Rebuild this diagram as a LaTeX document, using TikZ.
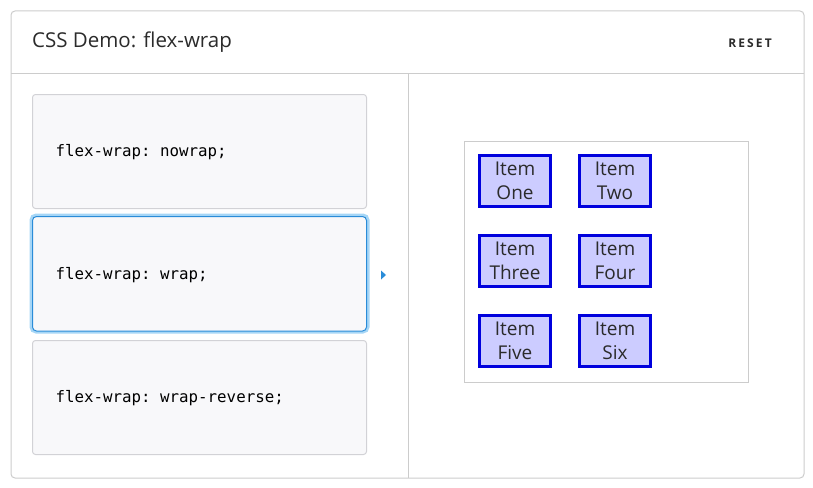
\documentclass[tikz,border=0pt]{standalone}
\usepackage{fontspec}
\setmainfont{Open Sans}
\setmonofont{DejaVu Sans Mono}
\usepackage{tikz}

\definecolor{frameline}{HTML}{CCCCCC}
\definecolor{optfill}{HTML}{F8F8FA}
\definecolor{optline}{HTML}{D2D2D6}
\definecolor{selline}{HTML}{2A8CD8}
\definecolor{selglow}{HTML}{A6D6F6}
\definecolor{itemfill}{HTML}{CCCCFF}
\definecolor{itemline}{HTML}{0000DD}
\definecolor{textgray}{HTML}{2B2B2B}

\tikzset{
  option/.style={draw=optline, fill=optfill, rounded corners=3pt, line width=1pt},
  code/.style={anchor=west, font=\ttfamily\fontsize{15.8}{18}\selectfont, text=black},
  item/.style={draw=itemline, fill=itemfill, line width=3pt, minimum width=71pt,
    minimum height=51pt, inner sep=0pt, align=center, text=textgray,
    font=\fontsize{19}{23.5}\selectfont}
}

\begin{document}
\begin{tikzpicture}[x=1pt,y=-1pt]
      \useasboundingbox (0,0) rectangle (813,487);
      % frame
      \draw[frameline, rounded corners=4pt, line width=1pt] (11,11) rectangle (804,478);
      \draw[frameline, line width=1pt] (11,73) -- (804,73);
      \draw[frameline, line width=1pt] (408,73) -- (408,478);
      % header
      \node[anchor=west, inner sep=0pt, text=textgray, font=\fontsize{20.5}{24}\selectfont] (title) at (32,42) {CSS Demo: flex-wrap};
      \node[anchor=east, inner sep=0pt, text=textgray, font=\bfseries\fontsize{12}{14}\selectfont\addfontfeature{LetterSpace=18}] (reset) at (772,43) {RESET};
      % options
      \draw[option] (32.5,94.5) rectangle (366.5,208.5);
      \node[code] (nowrap) at (52,152) {flex-wrap: nowrap;};
      \draw[selglow, rounded corners=5pt, line width=3pt] (31,215) rectangle (368,332);
      \draw[selline, fill=optfill, rounded corners=4pt, line width=1pt] (32.5,216.5) rectangle (366.5,331);
      \node[code] (wrap) at (52,275) {flex-wrap: wrap;};
      \draw[option] (32.5,340.5) rectangle (366.5,454.5);
      \node[code] (reverse) at (52,398) {flex-wrap: wrap-reverse;};
      \fill[selline] (381,270.5) -- (386,275) -- (381,279.5) -- cycle;
      % preview
      \draw[frameline, line width=1pt] (464.5,141.5) rectangle (748.5,382.5);
      \node[item] (one)   at (515,181) {Item\\One};
      \node[item] (two)   at (615,181) {Item\\Two};
      \node[item] (three) at (515,261) {Item\\Three};
      \node[item] (four)  at (615,261) {Item\\Four};
      \node[item] (five)  at (515,341) {Item\\Five};
      \node[item] (six)   at (615,341) {Item\\Six};
    \end{tikzpicture}
\end{document}
